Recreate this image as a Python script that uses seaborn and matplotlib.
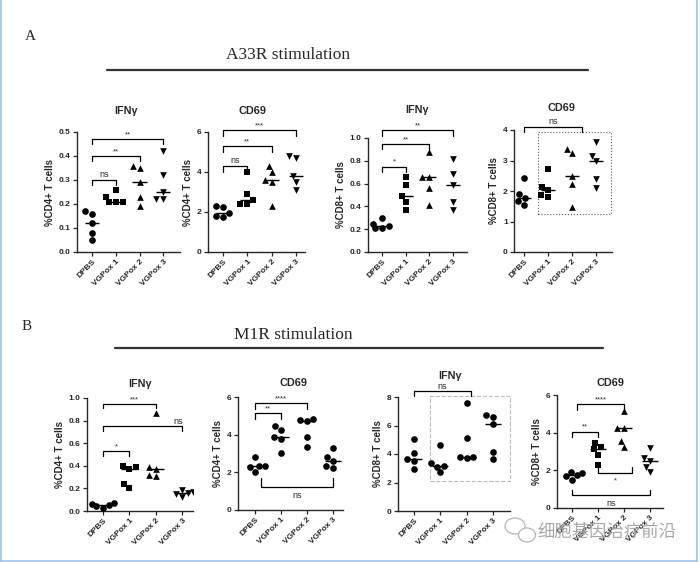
import matplotlib
matplotlib.use('Agg')
import matplotlib.pyplot as plt
import seaborn as sns
import numpy as np
import pandas as pd
from matplotlib.lines import Line2D
from matplotlib.patches import Rectangle, Ellipse

groups = ['DPBS', 'VGPox 1', 'VGPox 2', 'VGPox 3']
shapes = ['o', 's', '^', 'v']
dots = ['o', 'o', 'o', 'o']

# A33R stimulation
a_cd4_ifng = [[0.17, 0.16, 0.12, 0.08, 0.05], [0.26, 0.23, 0.21, 0.21, 0.21],
              [0.36, 0.35, 0.29, 0.23, 0.19], [0.42, 0.32, 0.25, 0.22, 0.22]]
a_cd4_cd69 = [[2.3, 2.25, 1.95, 1.8, 1.75], [4.0, 2.9, 2.6, 2.4, 2.4],
              [4.3, 4.0, 3.6, 3.5, 2.3], [4.8, 4.7, 3.8, 3.5, 3.1]]
a_cd8_ifng = [[0.30, 0.25, 0.23, 0.21, 0.21], [0.66, 0.59, 0.49, 0.44, 0.37],
              [0.88, 0.66, 0.66, 0.56, 0.41], [0.82, 0.68, 0.59, 0.44, 0.37]]
a_cd8_cd69 = [[2.42, 1.90, 1.77, 1.68, 1.55], [2.71, 2.13, 2.03, 1.86, 1.80],
              [3.39, 3.25, 2.48, 2.24, 1.48], [3.61, 3.14, 2.97, 2.40, 2.10]]

# M1R stimulation
b_cd4_ifng = [[0.07, 0.06, 0.05, 0.04, 0.03], [0.40, 0.39, 0.37, 0.24, 0.20],
              [0.87, 0.385, 0.37, 0.32, 0.31], [0.19, 0.17, 0.155, 0.15, 0.12]]
b_cd4_cd69 = [[2.84, 2.36, 2.32, 2.30, 2.04], [4.44, 4.23, 3.87, 3.78, 3.02],
              [4.85, 4.76, 4.70, 3.85, 3.37], [3.29, 2.79, 2.60, 2.31, 2.22]]
b_cd8_ifng = [[5.06, 4.05, 3.65, 3.50, 2.92], [4.66, 3.39, 3.15, 3.11, 2.71],
              [7.58, 5.15, 3.81, 3.76, 3.69], [6.71, 6.59, 6.12, 4.12, 3.65]]
b_cd8_cd69 = [[1.92, 1.88, 1.73, 1.68, 1.50], [3.47, 3.25, 3.12, 2.82, 2.29],
              [5.15, 4.27, 4.23, 3.56, 3.23], [3.21, 2.68, 2.50, 2.17, 1.89]]

sns.set_style('ticks')
plt.rcParams['font.family'] = ['Liberation Sans', 'DejaVu Sans']

W, H = 700, 562
fig = plt.figure(figsize=(7.0, 5.62), dpi=100)


def Axes(l, r, t, b):
    return fig.add_axes([l / W, 1 - b / H, (r - l) / W, (b - t) / H])


def Panel(ax, values, mk, ylabel, yticks, fmt, xlim):
    df = pd.DataFrame({'group': np.repeat(groups, [len(v) for v in values]),
                       'value': np.concatenate(values)})
    for g, m in zip(groups, mk):
        sns.swarmplot(data=df[df.group == g], x='group', y='value', order=groups,
                      marker=m, color='black', size=4.8, linewidth=0, ax=ax)
    for i, v in enumerate(values):
        ax.hlines(np.median(v), i - 0.3, i + 0.3, color='black', lw=1.0)
    ax.set_xlim(*xlim)
    ax.set_ylim(yticks[0], yticks[-1])
    ax.set_yticks(yticks)
    ax.set_yticklabels([fmt.format(t) for t in yticks], fontsize=6, fontweight='bold')
    ax.set_xticks(range(4))
    ax.set_xticklabels(groups, rotation=45, ha='right', rotation_mode='anchor',
                       fontsize=6, fontweight='bold')
    ax.set_xlabel('')
    ax.set_ylabel(ylabel, fontsize=7, fontweight='bold', labelpad=3)
    ax.tick_params(length=3, width=0.9, pad=1.5)
    for s in ['left', 'bottom']:
        ax.spines[s].set_linewidth(1.0)
    sns.despine(ax=ax)
    ax.patch.set_alpha(0)


def Bracket(ax, x1, x2, y, h, label, tx=None, below=False):
    ax.plot([x1, x1, x2, x2], [y - h, y, y, y - h], color='black', lw=0.9, clip_on=False)
    tx = (x1 + x2) / 2 if tx is None else tx
    size = 5.5 if '*' in label else 6.5
    if below:
        ax.annotate(label, (tx, y), xytext=(0, -3), textcoords='offset points',
                    ha='center', va='top', fontsize=size, annotation_clip=False)
    else:
        ax.annotate(label, (tx, y), xytext=(0, 0.5), textcoords='offset points',
                    ha='center', va='bottom', fontsize=size, annotation_clip=False)


def Title(x, y, text):
    fig.text(x / W, 1 - y / H, text, ha='center', va='center', fontsize=7.8, fontweight='bold')


# ---- A ----
ax = Axes(77, 180, 132, 252)
Panel(ax, a_cd4_ifng, shapes, '%CD4+ T cells', [0, 0.1, 0.2, 0.3, 0.4, 0.5], '{:.1f}', (-0.63, 3.7))
Bracket(ax, 0, 1, 0.30, 0.02, 'ns')
Bracket(ax, 0, 2, 0.40, 0.02, '**')
Bracket(ax, 0, 3, 0.47, 0.02, '**')
Title(126, 111, 'IFNγ')

ax = Axes(208, 305, 132, 252)
Panel(ax, a_cd4_cd69, shapes, '%CD4+ T cells', [0, 2, 4, 6], '{:d}', (-0.62, 3.37))
Bracket(ax, 0, 1, 4.3, 0.3, 'ns')
Bracket(ax, 0, 2, 5.3, 0.3, '**')
Bracket(ax, 0, 3, 6.1, 0.3, '***')
Title(252, 111, 'CD69')

ax = Axes(368, 467, 138, 252)
Panel(ax, a_cd8_ifng, shapes, '%CD8+ T cells', [0, 0.2, 0.4, 0.6, 0.8, 1.0], '{:.1f}', (-0.6, 3.6))
Bracket(ax, 0, 1, 0.75, 0.05, '*')
Bracket(ax, 0, 2, 0.95, 0.05, '**')
Bracket(ax, 0, 3, 1.07, 0.05, '**')
Title(417, 110, 'IFNγ')

ax = Axes(514, 612, 130, 252)
Panel(ax, a_cd8_cd69, shapes, '%CD8+ T cells', [0, 1, 2, 3, 4], '{:d}', (-0.42, 3.67))
Bracket(ax, 0, 2.4, 4.1, 0.15, 'ns')
ax.add_patch(Rectangle((0.58, 1.26), 3.05, 2.67, fill=False, ls=':', lw=0.8,
                       edgecolor='#555555', clip_on=False))
Title(561, 108, 'CD69')

# ---- B ----
ax = Axes(87, 193, 398, 511)
Panel(ax, b_cd4_ifng, shapes, '%CD4+ T cells', [0, 0.2, 0.4, 0.6, 0.8, 1.0], '{:.1f}', (-0.6, 3.4))
Bracket(ax, 0, 1, 0.53, 0.04, '*')
Bracket(ax, 0, 2, 0.95, 0.04, '***', tx=1.2)
Bracket(ax, 0, 3, 0.75, 0.04, 'ns', tx=2.85)
Title(140, 384, 'IFNγ')

ax = Axes(238, 343, 397, 510)
Panel(ax, b_cd4_cd69, dots, '%CD4+ T cells', [0, 2, 4, 6], '{:d}', (-0.65, 3.38))
Bracket(ax, 0, 1, 5.15, 0.3, '**')
Bracket(ax, 0, 2, 5.68, 0.3, '****')
Bracket(ax, 0.25, 3.0, 1.24, -0.45, 'ns', below=True)
Title(293, 383, 'CD69')

ax = Axes(398, 510, 397, 511)
Panel(ax, b_cd8_ifng, dots, '%CD8+ T cells', [0, 2, 4, 6, 8], '{:d}', (-0.61, 3.65))
Bracket(ax, 0, 2.17, 8.4, 0.3, 'ns')
ax.add_patch(Rectangle((0.61, 2.12), 3.04, 5.98, fill=False, ls='--', lw=0.8,
                       edgecolor='#bbbbbb', clip_on=False))
Title(450, 376, 'IFNγ')

ax = Axes(557, 663, 395, 508)
Panel(ax, b_cd8_cd69, shapes, '%CD8+ T cells', [0, 2, 4, 6], '{:d}', (-0.58, 3.5))
Bracket(ax, 0, 1, 4.06, 0.3, '**')
Bracket(ax, 0.2, 2, 5.5, 0.3, '****')
Bracket(ax, 1, 2.3, 1.85, -0.32, '*', tx=1.65, below=True)
Bracket(ax, 0, 3, 0.7, -0.27, 'ns', below=True)
Title(610, 383, 'CD69')

# ---- section headers ----
serif = ['Liberation Serif', 'DejaVu Serif']
fig.text(30 / W, 1 - 37 / H, 'A', family=serif, fontsize=11, ha='center', va='center')
fig.text(288 / W, 1 - 55 / H, 'A33R stimulation', family=serif, fontsize=12.5, ha='center', va='center')
fig.add_artist(Line2D([107 / W, 588 / W], [1 - 70 / H] * 2, color='#333333', lw=1.6))
fig.text(27 / W, 1 - 327 / H, 'B', family=serif, fontsize=11, ha='center', va='center')
fig.text(293 / W, 1 - 335 / H, 'M1R stimulation', family=serif, fontsize=12.5, ha='center', va='center')
fig.add_artist(Line2D([115 / W, 603 / W], [1 - 348 / H] * 2, color='#333333', lw=1.6))

# ---- watermark ----
for cx, cy, w, h in [(515, 526, 20, 16), (527, 535, 17, 14)]:
    fig.add_artist(Ellipse((cx / W, 1 - cy / H), w / W, h / H, fill=True, facecolor='white',
                           edgecolor='#b5b5b5', lw=0.9))
fig.text(607 / W, 1 - 532 / H, '细胞基因治疗前沿', family=['Noto Sans CJK SC', 'DejaVu Sans'],
         fontsize=12.5, color='#a8a8a8', ha='center', va='center')

# ---- frame ----
edge = '#9dc3e6'
fig.add_artist(Line2D([0.5 / W, 0.5 / W], [0, 1], color=edge, lw=1.2))
fig.add_artist(Line2D([697 / W, 697 / W], [0, 1], color=edge, lw=1.2))
fig.add_artist(Line2D([0, 697 / W], [1 - 561 / H] * 2, color=edge, lw=1.2))

plt.savefig('out.png', dpi=100)
plt.close('all')
